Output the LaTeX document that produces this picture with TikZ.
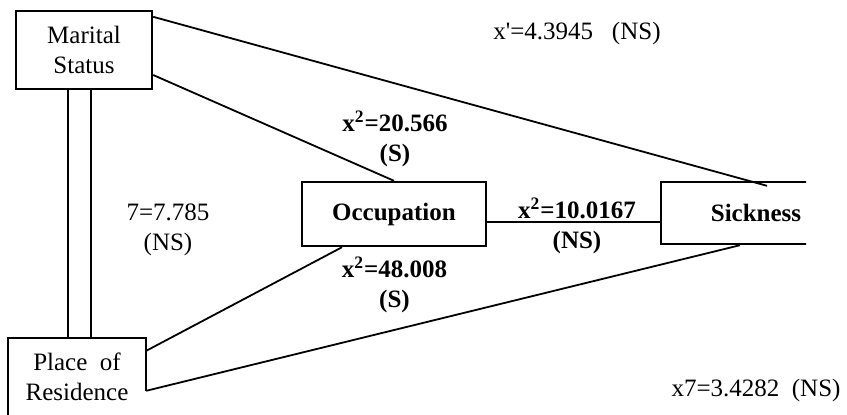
\documentclass[tikz,border=0pt]{standalone}
\usepackage{fontspec}
\setmainfont{Liberation Serif}
\begin{document}
\begin{tikzpicture}[x=0.5pt,y=-0.5pt,
  box/.style={draw,line width=1.2pt,rectangle,inner sep=0pt,align=center,font=\fontsize{12.5}{15}\selectfont},
  boldbox/.style={box,font=\fontsize{12.5}{15}\selectfont\bfseries},
  link/.style={line width=0.9pt},
  stat/.style={inner sep=0pt,align=center,font=\fontsize{12.5}{15}\selectfont},
  boldstat/.style={stat,font=\fontsize{12.5}{15}\selectfont\bfseries}]
  \useasboundingbox (0,0) rectangle (847,414);

  % Boxes
  \node[box,minimum width=68pt,minimum height=39pt] (marital) at (84,50) {Marital\\Status};
  \node[box,draw=none,minimum width=68pt,minimum height=37.5pt] (residence) at (77,376.5) {Place\ \ of\\Residence};
  \draw[line width=1.2pt] ([yshift=-26.5pt]residence.north east) -- (residence.north east) -- (residence.north west) -- (residence.south west);
  \node[boldbox,minimum width=92pt,minimum height=32pt] (occupation) at (394,214) {Occupation};
  \begin{scope}
    \clip (0,0) rectangle (806,414);
    \node[boldbox,minimum width=95pt,minimum height=31pt] (sickness) at (756,213) {Sickness};
  \end{scope}

  % Double line between Marital Status and Place of Residence
  \draw[link] ([xshift=-8pt]marital.south) -- ([xshift=-8pt]marital.south |- residence.north);
  \draw[link] ([xshift=3.5pt]marital.south) -- ([xshift=3.5pt]marital.south |- residence.north);

  % Associations
  \draw[link] ([yshift=-3.5pt]marital.north east) -- ([xshift=5.5pt,yshift=-2.5pt]sickness.north);
  \draw[link] ([yshift=-12.5pt]marital.east) -- (occupation.north);
  \draw[link] ([yshift=-4pt]occupation.east) -- ([yshift=-4pt]occupation.east -| sickness.west);
  \draw[link] ([yshift=-6.5pt]residence.north east) -- ([xshift=-26pt]occupation.south);
  \draw[link] ([yshift=-26.5pt]residence.north east) -- ([xshift=-8pt]sickness.south);

  % Chi-square values
  \node[stat] (msx) at (577,33) {x\textquotesingle=4.3945\ \ \ (NS)};
  \node[boldstat] (mox) at (395,139) {x\textsuperscript{2}=20.566\\(S)};
  \node[boldstat] (rox) at (394.5,285) {x\textsuperscript{2}=48.008\\(S)};
  \node[boldstat] (osx) at (577,226) {x\textsuperscript{2}=10.0167\\(NS)};
  \node[stat] (mrx) at (168,230) {7=7.785\\(NS)};
  \node[stat] (rsx) at (756,390) {x7=3.4282\ \ (NS)};
\end{tikzpicture}
\end{document}
